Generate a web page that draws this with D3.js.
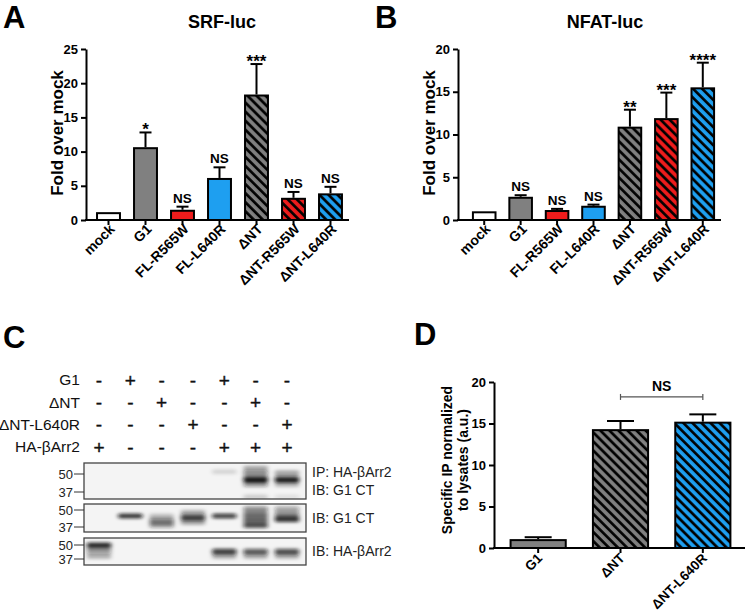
<!DOCTYPE html>
<html><head><meta charset="utf-8">
<script src="https://cdn.jsdelivr.net/npm/d3@7"></script>
<style>
body{margin:0;background:#fff;}
svg text{font-family:"Liberation Sans",Arial,sans-serif;}
</style></head>
<body><svg id="fig" width="745" height="616"></svg>
<script>
// ---------- DATA ----------
const catsAB = ["mock","G1","FL-R565W","FL-L640R","ΔNT","ΔNT-R565W","ΔNT-L640R"];
const fillKeys = ["white","gray","red","blue","gray","red","blue"];
const hatched = [false,false,false,false,true,true,true];

const srfMeans = [1.0,10.5,1.35,6.0,18.2,3.1,3.75];
const srfSem   = [0,2.3,0.6,1.7,4.6,1.0,1.1];
const srfSig   = ["","*","NS","NS","***","NS","NS"];
const srfTicks = [0,5,10,15,20,25];

const nfatMeans = [0.9,2.6,1.05,1.55,10.8,11.8,15.4];
const nfatSem   = [0,0.3,0.25,0.25,2.1,3.1,3.0];
const nfatSig   = ["","NS","NS","NS","**","***","****"];
const nfatTicks = [0,5,10,15,20];

const catsD = ["G1","ΔNT","ΔNT-L640R"];
const fillD = ["gray","gray","blue"];
const hatchD = [false,true,true];
const ipMeans = [0.95,14.2,15.1];
const ipSem   = [0.35,1.1,1.0];
const ipTicks = [0,5,10,15,20];
const ipBracket = {from:"ΔNT", to:"ΔNT-L640R", y:18.2, label:"NS"};

// blot
const laneIds = [1,2,3,4,5,6,7];
const rowLabels = ["G1","ΔNT","ΔNT-L640R","HA-βArr2"];
const rowSigns = [
  ["-","+","-","-","+","-","-"],
  ["-","-","+","-","-","+","-"],
  ["-","-","-","+","-","-","+"],
  ["+","-","-","-","+","+","+"]
];
const mwMarkers = [50,37];
const blotRightLabels = [["IP: HA-βArr2","IB: G1 CT"],["IB: G1 CT"],["IB: HA-βArr2"]];
// bands: [lane, apparent kDa, intensity]
const bandsIP = [[5,52,0.12],[6,55,0.3],[6,51,0.45],[6,47,0.6],[6,45,0.95],[6,42,0.4],[6,34,0.15],
                 [7,51,0.3],[7,47,0.5],[7,45,0.9],[7,42,0.25],[7,34,0.08]];
const bandsLys = [[2,45,0.8],[3,45,0.2],[3,42,0.35],[3,40,0.45],[3,38,0.35],[4,48,0.25],[4,45,0.5],[4,43,0.7],[4,40,0.3],
                  [5,45,0.75],[6,51,0.45],[6,47,0.5],[6,44,0.55],[6,41,0.6],[6,38,0.7],[7,51,0.35],[7,47,0.4],[7,44,0.6],[7,42,0.75]];
const bandsArr = [[1,50,0.85],[1,47,0.45],[1,43,0.35],[1,39,0.25],
                  [5,44,0.65],[5,42,0.5],[5,39,0.25],[6,44,0.5],[6,42,0.45],[6,39,0.25],[7,44,0.55],[7,42,0.5],[7,39,0.25]];

// ---------- STYLE ----------
const colors = {white:"#ffffff", gray:"#808080", red:"#ee1c1c", blue:"#1e9ff0"};
const svg = d3.select("#fig");
svg.append("rect").attr("width",745).attr("height",616).attr("fill","#fff");
const defs = svg.append("defs");
["gray","red","blue"].forEach(k=>{
  const p = defs.append("pattern").attr("id","hatch-"+k).attr("patternUnits","userSpaceOnUse")
    .attr("width",6.4).attr("height",6.4).attr("patternTransform","rotate(45)");
  p.append("rect").attr("width",6.4).attr("height",6.4).attr("fill",colors[k]);
  p.append("line").attr("x1",0).attr("y1",1.5).attr("x2",6.4).attr("y2",1.5)
    .attr("stroke","#000").attr("stroke-width",2.7);
});
const blur = defs.append("filter").attr("id","blur").attr("x","-50%").attr("y","-200%").attr("width","200%").attr("height","500%");
blur.append("feGaussianBlur").attr("stdDeviation","2 1.6");

function fillFor(k,h){ return h ? "url(#hatch-"+k+")" : colors[k]; }

// ---------- BAR PANEL ----------
function barPanel(o){
  const g = svg.append("g");
  const x = d3.scaleBand().domain(o.cats).range(o.xRange).paddingInner(o.pi).paddingOuter(o.po);
  const y = d3.scaleLinear().domain([0,o.ticks[o.ticks.length-1]]).range(o.yRange);
  const ya = g.append("g").attr("transform",`translate(${o.axisX},0)`)
    .call(d3.axisLeft(y).tickValues(o.ticks).tickSize(5).tickSizeOuter(0).tickPadding(3));
  ya.select(".domain").attr("stroke","#000").attr("stroke-width",2);
  ya.selectAll(".tick line").attr("stroke","#000").attr("stroke-width",2);
  ya.selectAll(".tick text").attr("font-size",13).attr("font-weight","bold").attr("fill","#000");
  const y0 = y(0);
  g.append("line").attr("x1",o.axisX-1).attr("x2",o.xEnd).attr("y1",y0).attr("y2",y0)
    .attr("stroke","#000").attr("stroke-width",2);
  const cx = d=> x(d)+x.bandwidth()/2;
  g.selectAll(".xt").data(o.cats).join("line").attr("x1",cx).attr("x2",cx)
    .attr("y1",y0).attr("y2",y0+5).attr("stroke","#000").attr("stroke-width",2);
  g.selectAll(".xl").data(o.cats).join("text")
    .attr("transform",d=>`translate(${cx(d)+o.lblDx},${y0+o.lblDy}) rotate(-45)`)
    .attr("text-anchor","end").attr("font-size",o.lblSize).attr("font-weight","bold").text(d=>d);
  const data = o.cats.map((c,i)=>({c,m:o.means[i],s:o.sem[i],f:o.fills[i],h:o.hatch[i],sig:o.sig?o.sig[i]:""}));
  g.selectAll(".bar").data(data).join("rect")
    .attr("x",d=>x(d.c)).attr("width",x.bandwidth())
    .attr("y",d=>y(d.m)).attr("height",d=>y0-y(d.m))
    .attr("fill",d=>fillFor(d.f,d.h)).attr("stroke","#000").attr("stroke-width",2);
  const eb = data.filter(d=>d.s>0);
  g.selectAll(".ev").data(eb).join("line").attr("x1",d=>cx(d.c)).attr("x2",d=>cx(d.c))
    .attr("y1",d=>y(d.m)-1).attr("y2",d=>y(d.m+d.s)).attr("stroke","#000").attr("stroke-width",2);
  g.selectAll(".ec").data(eb).join("line").attr("x1",d=>cx(d.c)-o.cap).attr("x2",d=>cx(d.c)+o.cap)
    .attr("y1",d=>y(d.m+d.s)).attr("y2",d=>y(d.m+d.s)).attr("stroke","#000").attr("stroke-width",2);
  g.selectAll(".sg").data(data.filter(d=>d.sig)).join("text")
    .attr("x",d=>cx(d.c)).attr("y",d=>y(d.m+d.s)-(d.sig==="NS"?4:-3))
    .attr("text-anchor","middle").attr("font-weight","bold")
    .attr("font-size",d=>d.sig==="NS"?13.5:17).text(d=>d.sig);
  return {x,y,cx,g};
}

// ---------- PANEL A ----------
svg.append("text").attr("x",3).attr("y",28).attr("font-size",31).attr("font-weight","bold").text("A");
svg.append("text").attr("x",222).attr("y",28).attr("text-anchor","middle").attr("font-size",18).attr("font-weight","bold").text("SRF-luc");
svg.append("text").attr("transform","translate(63,133) rotate(-90)").attr("text-anchor","middle")
  .attr("font-size",17).attr("font-weight","bold").text("Fold over mock");
barPanel({cats:catsAB,means:srfMeans,sem:srfSem,sig:srfSig,fills:fillKeys,hatch:hatched,ticks:srfTicks,
  xRange:[90,349],pi:0.38,po:0.19,yRange:[220,49],axisX:86,xEnd:349,cap:6,lblDx:7,lblDy:10,lblSize:14});

// ---------- PANEL B ----------
svg.append("text").attr("x",375).attr("y",28).attr("font-size",31).attr("font-weight","bold").text("B");
svg.append("text").attr("x",605).attr("y",28).attr("text-anchor","middle").attr("font-size",18).attr("font-weight","bold").text("NFAT-luc");
svg.append("text").attr("transform","translate(435,133) rotate(-90)").attr("text-anchor","middle")
  .attr("font-size",17).attr("font-weight","bold").text("Fold over mock");
barPanel({cats:catsAB,means:nfatMeans,sem:nfatSem,sig:nfatSig,fills:fillKeys,hatch:hatched,ticks:nfatTicks,
  xRange:[466,721],pi:0.38,po:0.19,yRange:[220,49],axisX:458,xEnd:721,cap:6,lblDx:7,lblDy:10,lblSize:14});

// ---------- PANEL D ----------
svg.append("text").attr("x",414).attr("y",345).attr("font-size",31).attr("font-weight","bold").text("D");
svg.append("text").attr("transform","translate(452,460) rotate(-90)").attr("text-anchor","middle")
  .attr("font-size",14).attr("font-weight","bold").text("Specific IP normalized");
svg.append("text").attr("transform","translate(468,460) rotate(-90)").attr("text-anchor","middle")
  .attr("font-size",14).attr("font-weight","bold").text("to lysates  (a.u.)");
const pD = barPanel({cats:catsD,means:ipMeans,sem:ipSem,fills:fillD,hatch:hatchD,ticks:ipTicks,
  xRange:[497,744],pi:0.33,po:0.165,yRange:[548,382],axisX:494,xEnd:745,cap:13.5,lblDx:5,lblDy:11,lblSize:13.5});
{
  const bx1 = pD.cx(ipBracket.from), bx2 = pD.cx(ipBracket.to), by = pD.y(ipBracket.y);
  const bg = svg.append("g").attr("stroke","#555").attr("stroke-width",1.2);
  bg.append("line").attr("x1",bx1).attr("x2",bx2).attr("y1",by).attr("y2",by);
  bg.append("line").attr("x1",bx1).attr("x2",bx1).attr("y1",by-3).attr("y2",by+3);
  bg.append("line").attr("x1",bx2).attr("x2",bx2).attr("y1",by-3).attr("y2",by+3);
  svg.append("text").attr("x",(bx1+bx2)/2).attr("y",by-6).attr("text-anchor","middle")
    .attr("font-size",14).attr("font-weight","bold").text(ipBracket.label);
}

// ---------- PANEL C ----------
svg.append("text").attr("x",3).attr("y",348).attr("font-size",31).attr("font-weight","bold").text("C");
const lane = d3.scalePoint().domain(laneIds).range([99,287]);
const rowY = d3.scalePoint().domain(rowLabels).range([380,447]);
const gc = svg.append("g");
gc.selectAll(".rl").data(rowLabels).join("text").attr("x",80).attr("y",d=>rowY(d))
  .attr("dy","0.35em").attr("text-anchor","end").attr("font-size",15.5).attr("fill","#111").text(d=>d);
rowSigns.forEach((row,ri)=>{
  gc.selectAll(".sg"+ri).data(row).join("text").attr("x",(d,i)=>lane(laneIds[i]))
    .attr("y",rowY(rowLabels[ri])).attr("dy","0.35em").attr("text-anchor","middle")
    .attr("font-size",d=>d==="+"?19:19).attr("stroke","#111").attr("stroke-width",0.4)
    .attr("fill","#111").text(d=>d);
});
const blots = [
  {top:463,bot:499,y50:474,y37:492,bands:bandsIP,labels:blotRightLabels[0]},
  {top:504,bot:532,y50:510,y37:527,bands:bandsLys,labels:blotRightLabels[1]},
  {top:538,bot:565,y50:545,y37:559,bands:bandsArr,labels:blotRightLabels[2]}
];
const bandW = (lane(2)-lane(1))*0.78;
blots.forEach(b=>{
  const mw = d3.scaleLog().domain([50,37]).range([b.y50,b.y37]);
  const clipId = "clip"+b.top;
  defs.append("clipPath").attr("id",clipId).append("rect").attr("x",84).attr("y",b.top)
    .attr("width",222).attr("height",b.bot-b.top);
  gc.append("rect").attr("x",84).attr("y",b.top).attr("width",222).attr("height",b.bot-b.top)
    .attr("fill","#f4f4f4");
  const bg = gc.append("g").attr("clip-path",`url(#${clipId})`).append("g").attr("filter","url(#blur)");
  bg.selectAll("rect").data(b.bands).join("rect")
    .attr("x",d=>lane(d[0])-bandW/2).attr("width",bandW)
    .attr("y",d=>mw(d[1])-2.5).attr("height",5).attr("rx",2)
    .attr("fill","#111").attr("opacity",d=>d[2]);
  gc.append("rect").attr("x",84).attr("y",b.top).attr("width",222).attr("height",b.bot-b.top)
    .attr("fill","none").attr("stroke","#444").attr("stroke-width",1.3);
  mwMarkers.forEach(m=>{
    gc.append("line").attr("x1",74).attr("x2",84).attr("y1",mw(m)).attr("y2",mw(m)).attr("stroke","#333").attr("stroke-width",1);
    gc.append("text").attr("x",73).attr("y",mw(m)).attr("dy","0.35em").attr("text-anchor","end")
      .attr("font-size",13).attr("fill","#222").text(m);
  });
  const ly = (b.top+b.bot)/2;
  b.labels.forEach((t,i)=>{
    gc.append("text").attr("x",312).attr("y",ly+(i-(b.labels.length-1)/2)*18).attr("dy","0.35em")
      .attr("font-size",14).attr("fill","#222").text(t);
  });
});
</script></body></html>
